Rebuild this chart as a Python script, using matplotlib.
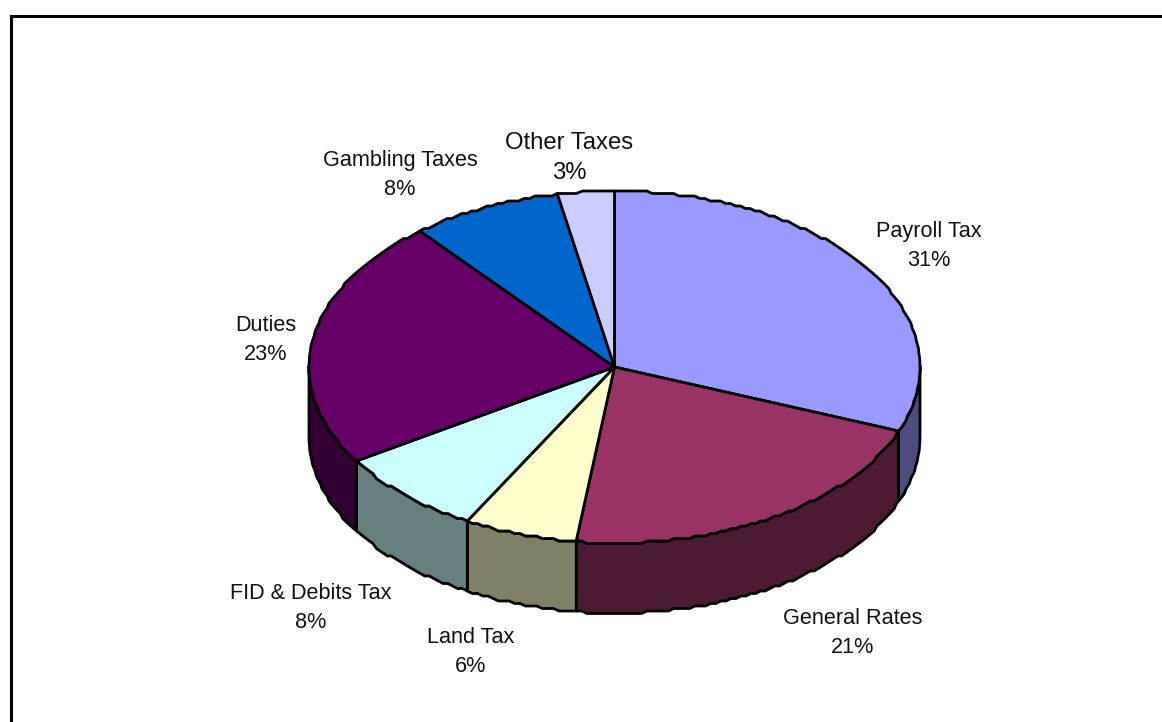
import numpy as np
import matplotlib
matplotlib.use('Agg')
import matplotlib.pyplot as plt
from matplotlib.patches import Polygon

categories = ['Payroll Tax', 'General Rates', 'Land Tax', 'FID & Debits Tax',
              'Duties', 'Gambling Taxes', 'Other Taxes']
shares = [31, 21, 6, 8, 23, 8, 3]
top_colors = ['#9999FF', '#993366', '#FFFFCC', '#CCFFFF', '#660066', '#0066CC', '#CCCCFF']
side_colors = ['#4D4D80', '#4D1A33', '#808066', '#668080', '#330033', '#003366', '#666680']
label_xy = [(929, 245.5), (853, 633), (471, 652), (311, 608), (266, 340), (400, 175), (569, 158)]
label_size = [15.6, 15.6, 15.6, 15.6, 15.6, 15.6, 17.2]

W, H = 1162, 722
CX, CY = 614.5, 367
RX, RY = 305.5, 176
DEPTH = 70
STEP = 2.5  # rim outline is drawn on a coarse grid

plt.rcParams['font.family'] = ['Liberation Sans', 'DejaVu Sans']

fig = plt.figure(figsize=(W / 100, H / 100), dpi=100)
ax = fig.add_axes([0, 0, 1, 1])
ax.set_xlim(0, W)
ax.set_ylim(H, 0)
ax.axis('off')

# frame runs off the right and bottom of the figure
ax.plot([10.5, 10.5, W], [H, 15.5, 15.5], color='black', lw=2.2, solid_joinstyle='miter')


def rim(a0, a1, drop=0):
    # points on the ellipse, angles clockwise from twelve o'clock
    t = np.radians(np.linspace(a0, a1, max(int(abs(a1 - a0)), 2)))
    x = CX + RX * np.sin(t)
    y = CY - RY * np.cos(t)
    top = CY - RY
    y = np.round((y - top) / STEP) * STEP + top
    return np.column_stack([x, y + drop])


edges = np.cumsum([0] + shares) * 3.6

# side walls, only the front half (90..270 degrees) shows
for i in range(len(shares)):
    a0, a1 = max(edges[i], 90), min(edges[i + 1], 270)
    if a1 <= a0:
        continue
    pts = np.vstack([rim(a0, a1), rim(a0, a1, DEPTH)[::-1]])
    ax.add_patch(Polygon(pts, closed=True, fc=side_colors[i], ec='black', lw=2, joinstyle='round'))

for i in range(len(shares)):
    pts = np.vstack([[CX, CY], rim(edges[i], edges[i + 1])])
    ax.add_patch(Polygon(pts, closed=True, fc=top_colors[i], ec='black', lw=2, joinstyle='round'))

for name, share, (x, y), size in zip(categories, shares, label_xy, label_size):
    ax.text(x, y, f'{name}\n{share}%', ha='center', va='center', fontsize=size,
            color='#111111', linespacing=1.5)

fig.savefig('out.png', dpi=100)
